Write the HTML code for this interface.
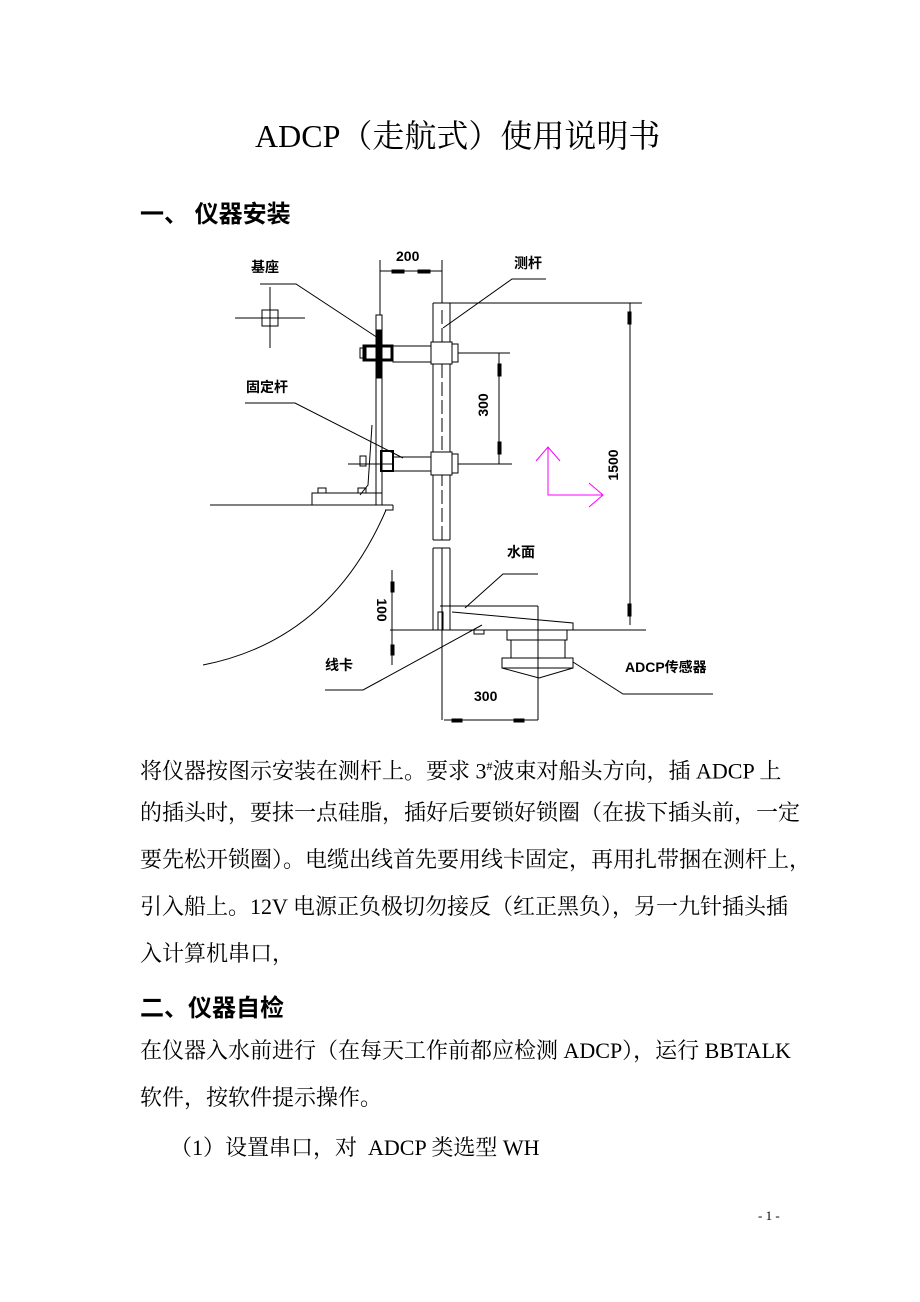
<!DOCTYPE html>
<html><head><meta charset="utf-8"><style>
body{margin:0;background:#fff;}
#p{position:relative;width:920px;height:1302px;overflow:hidden;font-family:"Liberation Serif","Noto Serif CJK SC",serif;color:#000;}
.t{position:absolute;white-space:nowrap;font-size:22px;line-height:26px;}
.h{position:absolute;white-space:nowrap;font-family:"Liberation Sans","Noto Sans CJK SC",sans-serif;font-weight:bold;font-size:24px;}
svg text{font-family:"Liberation Sans","Noto Sans CJK SC",sans-serif;font-weight:bold;}
</style></head><body><div id="p">
<div class="t" style="left:255px;top:117px;font-size:32px;line-height:38px;">ADCP（走航式）使用说明书</div>
<div class="h" style="left:140px;top:194px;">一、 仪器安装</div>
<svg width="920" height="1302" style="position:absolute;left:0;top:0" fill="none" stroke="#000" stroke-width="1">
<line x1="235" y1="318" x2="305" y2="318"/><line x1="270" y1="287" x2="270" y2="348"/>
<rect x="262" y="310" width="16" height="16"/><line x1="270" y1="310" x2="270" y2="326"/><line x1="262" y1="318" x2="278" y2="318"/>
<rect x="376" y="315" width="6" height="190"/>
<rect x="377" y="330" width="4" height="48" fill="#000"/>
<polyline points="372,425 368,485 360,495"/>
<rect x="312" y="493" width="70" height="12"/>
<rect x="318" y="488" width="8" height="5"/><rect x="358" y="488" width="8" height="5"/>
<line x1="210" y1="505" x2="393" y2="505"/>
<polyline points="393,505 393,510 385,510"/>
<path d="M386,510 Q330,640 203,665"/>
<rect x="364" y="346" width="28" height="14" stroke-width="3"/><rect x="360" y="348" width="6" height="10"/>
<rect x="381" y="451" width="12" height="20" stroke-width="2"/><rect x="360" y="456" width="6" height="10"/>
<line x1="348" y1="464" x2="392" y2="464"/>
<rect x="393" y="346" width="38" height="16"/>
<rect x="393" y="457" width="38" height="14"/>
<line x1="433" y1="303" x2="433" y2="540"/><line x1="450" y1="303" x2="450" y2="540"/>
<line x1="433" y1="303" x2="440" y2="303"/><line x1="442" y1="310" x2="442" y2="540" stroke-dasharray="14,4"/>
<line x1="433" y1="540" x2="450" y2="540"/>
<line x1="433" y1="548" x2="450" y2="548"/><line x1="433" y1="548" x2="433" y2="630"/><line x1="450" y1="548" x2="450" y2="630"/>
<line x1="442" y1="548" x2="442" y2="720"/>
<rect x="431" y="342" width="21" height="22" fill="#fff"/><rect x="452" y="344" width="6" height="18"/>
<rect x="431" y="452" width="21" height="23" fill="#fff"/><rect x="452" y="454" width="6" height="19"/>
<line x1="440" y1="303" x2="642" y2="303"/>
<line x1="630" y1="303" x2="630" y2="625"/>
<rect x="628" y="312" width="3" height="12" fill="#000"/><rect x="628" y="604" width="3" height="12" fill="#000"/>
<line x1="380" y1="260" x2="380" y2="315"/><line x1="442" y1="260" x2="442" y2="303"/>
<line x1="380" y1="271" x2="442" y2="271"/>
<rect x="392" y="270" width="12" height="3" fill="#000"/><rect x="418" y="270" width="12" height="3" fill="#000"/>
<line x1="458" y1="353" x2="510" y2="353"/><line x1="458" y1="464" x2="512" y2="464"/>
<line x1="499" y1="353" x2="499" y2="464"/>
<rect x="498" y="364" width="3" height="12" fill="#000"/><rect x="498" y="442" width="3" height="12" fill="#000"/>
<g stroke="#f0f">
<polyline points="548,447 548,495 603,495"/>
<polyline points="536,461 548,447 560,461"/>
<polyline points="589,483 603,495 589,507"/>
</g>
<line x1="440" y1="606" x2="538" y2="606"/>
<line x1="390" y1="630" x2="646" y2="630"/>
<polyline points="452,612 573,623 573,630"/>
<rect x="438" y="612" width="5" height="18"/>
<line x1="392" y1="570" x2="392" y2="665"/>
<rect x="391" y="582" width="3" height="10" fill="#000"/><rect x="391" y="645" width="3" height="10" fill="#000"/>
<rect x="474" y="630" width="10" height="4"/>
<rect x="507" y="630" width="60" height="10"/>
<rect x="511" y="640" width="54" height="18"/>
<rect x="502" y="658" width="71" height="10"/>
<polyline points="502,668 539,678 573,668"/>
<line x1="538" y1="606" x2="538" y2="720"/>
<line x1="444" y1="720" x2="538" y2="720"/>
<rect x="452" y="719" width="10" height="3" fill="#000"/><rect x="514" y="719" width="10" height="3" fill="#000"/>
<polyline points="260,284 296,284 378,338"/>
<polyline points="245,403 295,403 403,458"/>
<polyline points="546,279 512,279 443,328"/>
<polyline points="538,574 503,574 465,608"/>
<polyline points="325,690 363,690 482,625"/>
<polyline points="713,694 623,694 573,662"/>
<g fill="#000" stroke="none" font-size="14">
<text x="396" y="261">200</text>
<text x="251" y="272">基座</text>
<text x="246" y="392">固定杆</text>
<text x="514" y="268">测杆</text>
<text x="507" y="557">水面</text>
<text x="325" y="670">线卡</text>
<text x="625" y="672">ADCP传感器</text>
<text x="474" y="701">300</text>
<text transform="translate(488,405) rotate(-90)" text-anchor="middle">300</text>
<text transform="translate(618,465) rotate(-90)" text-anchor="middle">1500</text>
<text transform="translate(377,610) rotate(90)" text-anchor="middle">100</text>
</g>
</svg>
<div class="t" style="left:140px;top:753px;">将仪器按图示安装在测杆上。要求 3<sup style="font-size:12px">#</sup>波束对船头方向，插 ADCP 上</div>
<div class="t" style="left:140px;top:800px;">的插头时，要抹一点硅脂，插好后要锁好锁圈（在拔下插头前，一定</div>
<div class="t" style="left:140px;top:847px;">要先松开锁圈）。电缆出线首先要用线卡固定，再用扎带捆在测杆上，</div>
<div class="t" style="left:140px;top:894px;">引入船上。12V 电源正负极切勿接反（红正黑负），另一九针插头插</div>
<div class="t" style="left:140px;top:941px;">入计算机串口，</div>
<div class="h" style="left:140px;top:988px;">二、仪器自检</div>
<div class="t" style="left:140px;top:1038px;">在仪器入水前进行（在每天工作前都应检测 ADCP），运行 BBTALK</div>
<div class="t" style="left:140px;top:1085px;">软件，按软件提示操作。</div>
<div class="t" style="left:170px;top:1135px;">（1）设置串口，对&nbsp; ADCP 类选型 WH</div>
<div class="t" style="left:758px;top:1208px;font-size:13px;line-height:16px;">- 1 -</div>
</div></body></html>
